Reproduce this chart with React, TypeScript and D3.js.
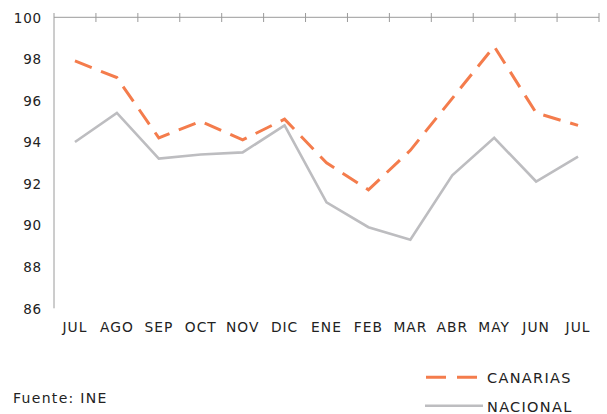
import React from "react";
import * as d3 from "d3";

const months = ["JUL", "AGO", "SEP", "OCT", "NOV", "DIC", "ENE", "FEB", "MAR", "ABR", "MAY", "JUN", "JUL"];
const canarias = [97.9, 97.1, 94.2, 95.0, 94.1, 95.1, 93.0, 91.7, 93.6, 96.1, 98.6, 95.4, 94.8];
const nacional = [94.0, 95.4, 93.2, 93.4, 93.5, 94.8, 91.1, 89.9, 89.3, 92.4, 94.2, 92.1, 93.3];
const yTicks = [86, 88, 90, 92, 94, 96, 98, 100];

const W = 607;
const H = 414;
const left = 54;
const right = 599;
const top = 17.3;
const bottom = 308.3;
const FONT = "'DejaVu Sans', Verdana, sans-serif";

export default function App() {
  const idx = months.map((_, i) => i);
  const xBand = d3.scaleBand<number>().domain(idx).range([left, right]).padding(0);
  const xc = (i: number) => (xBand(i) as number) + xBand.bandwidth() / 2;
  const y = d3.scaleLinear().domain([86, 100]).range([bottom, top]);
  const line = d3
    .line<number>()
    .x((_, i) => xc(i))
    .y((d) => y(d));

  const tickXs = idx.map((i) => (xBand(i) as number) + xBand.bandwidth());

  return (
    <svg
      width={W}
      height={H}
      style={{ position: "absolute", left: 0, top: 0, background: "#fff" }}
      fontFamily={FONT}
    >
      <line x1={left} x2={left} y1={13} y2={bottom} stroke="#9a9a9a" strokeWidth={1} />
      <line x1={left} x2={right} y1={top} y2={top} stroke="#9a9a9a" strokeWidth={1} />
      {tickXs.map((tx, i) => (
        <line key={i} x1={tx} x2={tx} y1={13} y2={22} stroke="#9a9a9a" strokeWidth={1} />
      ))}
      {yTicks.map((t) => (
        <text
          key={t}
          x={42}
          y={y(t) + 5.3}
          textAnchor="end"
          fontSize={13.5}
          letterSpacing={0.8}
          fill="#222"
        >
          {t}
        </text>
      ))}
      {months.map((m, i) => (
        <text
          key={i}
          x={xc(i)}
          y={332}
          textAnchor="middle"
          fontSize={13.8}
          letterSpacing={1}
          fill="#222"
        >
          {m}
        </text>
      ))}
      <path d={line(nacional) || ""} fill="none" stroke="#bdbdc0" strokeWidth={2.6} />
      <path
        d={line(canarias) || ""}
        fill="none"
        stroke="#f47c4c"
        strokeWidth={3}
        strokeDasharray="18,10"
      />
      <line x1={426} x2={477} y1={377.3} y2={377.3} stroke="#f47c4c" strokeWidth={3} strokeDasharray="20,11" />
      <text x={487} y={383.3} fontSize={14.5} letterSpacing={1.3} fill="#222">
        CANARIAS
      </text>
      <line x1={425} x2={483} y1={405.7} y2={405.7} stroke="#bdbdc0" strokeWidth={2.6} />
      <text x={487} y={411.5} fontSize={14.5} letterSpacing={1.3} fill="#222">
        NACIONAL
      </text>
      <text x={13} y={403.3} fontSize={14} letterSpacing={1.3} fill="#222">
        Fuente: INE
      </text>
    </svg>
  );
}
